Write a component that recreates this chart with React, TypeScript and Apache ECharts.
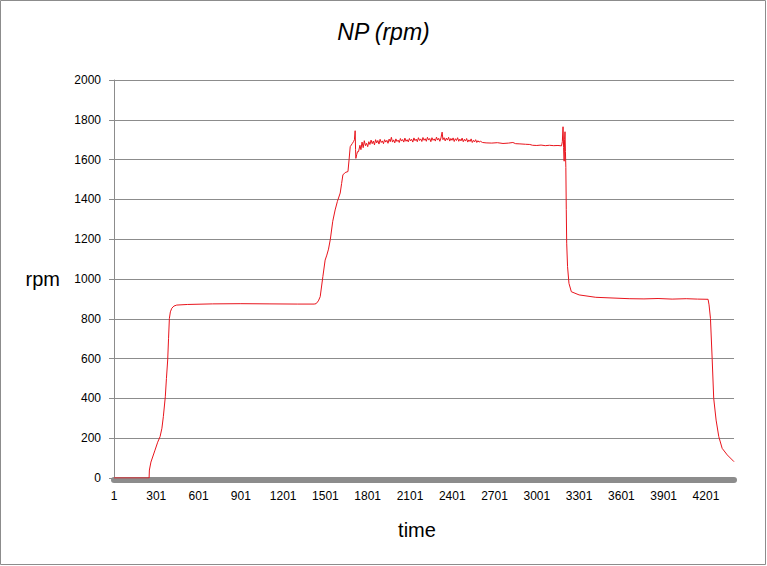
import React, { useEffect, useRef } from "react";
import * as echarts from "echarts";

// sample index (0-based; axis label shows index + 1)
const timeIdx: number[] = [
  0, 249, 251, 262, 291, 310, 327, 340, 350, 364, 372, 381, 387, 393, 400, 410, 425, 445,
  520, 700, 900, 1100, 1300, 1420, 1434, 1450, 1463, 1482, 1498, 1510, 1522, 1535, 1552, 1569,
  1585, 1605, 1615, 1624, 1640, 1660, 1668, 1676, 1690, 1699, 1706, 1711, 1714, 1716, 1722, 1728,
  1735, 1745, 1752, 1760, 1768, 1776, 1784, 1792, 1800, 1808, 1816, 1824, 1832, 1840, 1848, 1856,
  1864, 1872, 1880, 1888, 1896, 1904, 1912, 1920, 1928, 1936, 1944, 1952, 1960, 1968, 1976, 1984,
  1992, 2000, 2008, 2016, 2024, 2032, 2040, 2048, 2056, 2064, 2072, 2080, 2088, 2096, 2104, 2112,
  2120, 2128, 2136, 2144, 2152, 2160, 2168, 2176, 2184, 2192, 2200, 2208, 2216, 2224, 2232, 2240,
  2248, 2256, 2264, 2272, 2280, 2288, 2296, 2304, 2312, 2320, 2328, 2334, 2342, 2350, 2358, 2366,
  2374, 2382, 2390, 2398, 2406, 2414, 2422, 2430, 2438, 2446, 2454, 2462, 2470, 2478, 2486, 2494,
  2502, 2510, 2518, 2526, 2534, 2542, 2550, 2558, 2566, 2574, 2582, 2590, 2600, 2615, 2640, 2680,
  2720, 2760, 2800, 2830, 2850, 2880, 2920, 2950, 2970, 3000, 3030, 3060, 3090, 3120, 3150, 3175,
  3181, 3186, 3190, 3194, 3197, 3200, 3203, 3206, 3209, 3212, 3218, 3228, 3245, 3300, 3418, 3655,
  3760, 3860, 3960, 4060, 4140, 4215, 4222, 4232, 4244, 4255, 4272, 4291, 4315, 4351, 4399,
];

const rpm: number[] = [
  0, 0, 40, 80, 140, 180, 208, 250, 308, 408, 500, 593, 700, 802, 835, 853, 864, 869,
  872, 875, 876, 875, 874, 874, 876, 890, 911, 1012, 1095, 1120, 1150, 1200, 1290, 1347,
  1390, 1432, 1480, 1523, 1535, 1540, 1600, 1665, 1680, 1690, 1700, 1745, 1650, 1606, 1625, 1640,
  1640, 1672, 1650, 1688, 1660, 1695, 1670, 1682, 1665, 1690, 1676, 1698, 1680, 1693, 1674, 1700,
  1684, 1696, 1678, 1702, 1686, 1694, 1680, 1700, 1688, 1697, 1682, 1703, 1690, 1712, 1688, 1699,
  1684, 1704, 1691, 1698, 1686, 1706, 1693, 1701, 1688, 1708, 1692, 1700, 1689, 1706, 1694, 1702,
  1688, 1709, 1695, 1703, 1690, 1710, 1696, 1704, 1691, 1711, 1697, 1705, 1692, 1712, 1698, 1706,
  1690, 1710, 1697, 1704, 1693, 1713, 1698, 1707, 1692, 1709, 1738, 1700, 1710, 1694, 1708, 1698,
  1712, 1693, 1706, 1697, 1709, 1691, 1705, 1696, 1710, 1692, 1703, 1694, 1708, 1690, 1702, 1693,
  1706, 1688, 1699, 1691, 1704, 1686, 1697, 1689, 1700, 1686, 1695, 1688, 1692, 1686, 1684, 1683,
  1685, 1681, 1683, 1686, 1680, 1679, 1677, 1676, 1672, 1671, 1673, 1670, 1672, 1670, 1671, 1669,
  1690, 1765, 1660, 1592, 1700, 1740, 1640, 1560, 1350, 1180, 1062, 978, 936, 920, 908, 901,
  900, 902, 899, 901, 899, 898, 870, 802, 601, 400, 291, 208, 149, 116, 82,
];

const yTicks = { min: 0, max: 2000, interval: 200 };
const xTicks = { min: 0, max: 4399, interval: 300 };

const FONT = "Liberation Sans";

export default function App() {
  const ref = useRef<HTMLDivElement>(null);
  useEffect(() => {
    if (!ref.current) return;
    const chart = echarts.init(ref.current, undefined, { renderer: "svg" });
    const data = timeIdx.map((t, i) => [t, rpm[i]]);
    chart.setOption({
      animation: false,
      backgroundColor: "#ffffff",
      textStyle: { fontFamily: FONT },
      title: {
        text: "NP (rpm)",
        left: "center",
        top: 15,
        textStyle: {
          fontFamily: FONT,
          fontStyle: "italic",
          fontWeight: "normal",
          fontSize: 23,
          color: "#000",
        },
      },
      grid: { left: 114, right: 33, top: 80, bottom: 88 },
      xAxis: {
        type: "value",
        min: xTicks.min,
        max: xTicks.max,
        interval: xTicks.interval,
        offset: 2,
        name: "time",
        nameLocation: "middle",
        nameGap: 40,
        nameTextStyle: { fontSize: 20, color: "#000", fontFamily: FONT, padding: [0, 14, 0, 0] },
        axisLine: { show: true, onZero: false, lineStyle: { color: "#8c8c8c", width: 6 } },
        axisTick: { show: false },
        splitLine: { show: false },
        axisLabel: {
          formatter: (v: number) => String(v + 1),
          showMaxLabel: false,
          margin: 10,
          color: "#000",
          fontSize: 12,
          fontFamily: FONT,
        },
      },
      yAxis: {
        type: "value",
        min: yTicks.min,
        max: yTicks.max,
        interval: yTicks.interval,
        name: "rpm",
        nameLocation: "middle",
        nameRotate: 0,
        nameGap: 54,
        nameTextStyle: { fontSize: 20, color: "#000", fontFamily: FONT },
        axisLine: { show: true, lineStyle: { color: "#8c8c8c" } },
        axisTick: { show: true, length: 5, lineStyle: { color: "#8c8c8c" } },
        splitLine: { show: true, lineStyle: { color: "#8c8c8c", width: 1 } },
        axisLabel: {
          formatter: (v: number) => String(v),
          color: "#000",
          fontSize: 12,
          margin: 13,
          fontFamily: FONT,
        },
      },
      series: [
        {
          type: "line",
          data,
          symbol: "none",
          showSymbol: false,
          lineStyle: { color: "#e8141c", width: 1 },
        },
      ],
      graphic: [
        {
          type: "rect",
          shape: { x: 0.5, y: 0.5, width: 765, height: 564 },
          style: { fill: "none", stroke: "#8c8c8c", lineWidth: 1 },
          silent: true,
        },
      ],
    });
    return () => chart.dispose();
  }, []);
  return (
    <div
      ref={ref}
      style={{ position: "fixed", left: 0, top: 0, width: 767, height: 566 }}
    />
  );
}
